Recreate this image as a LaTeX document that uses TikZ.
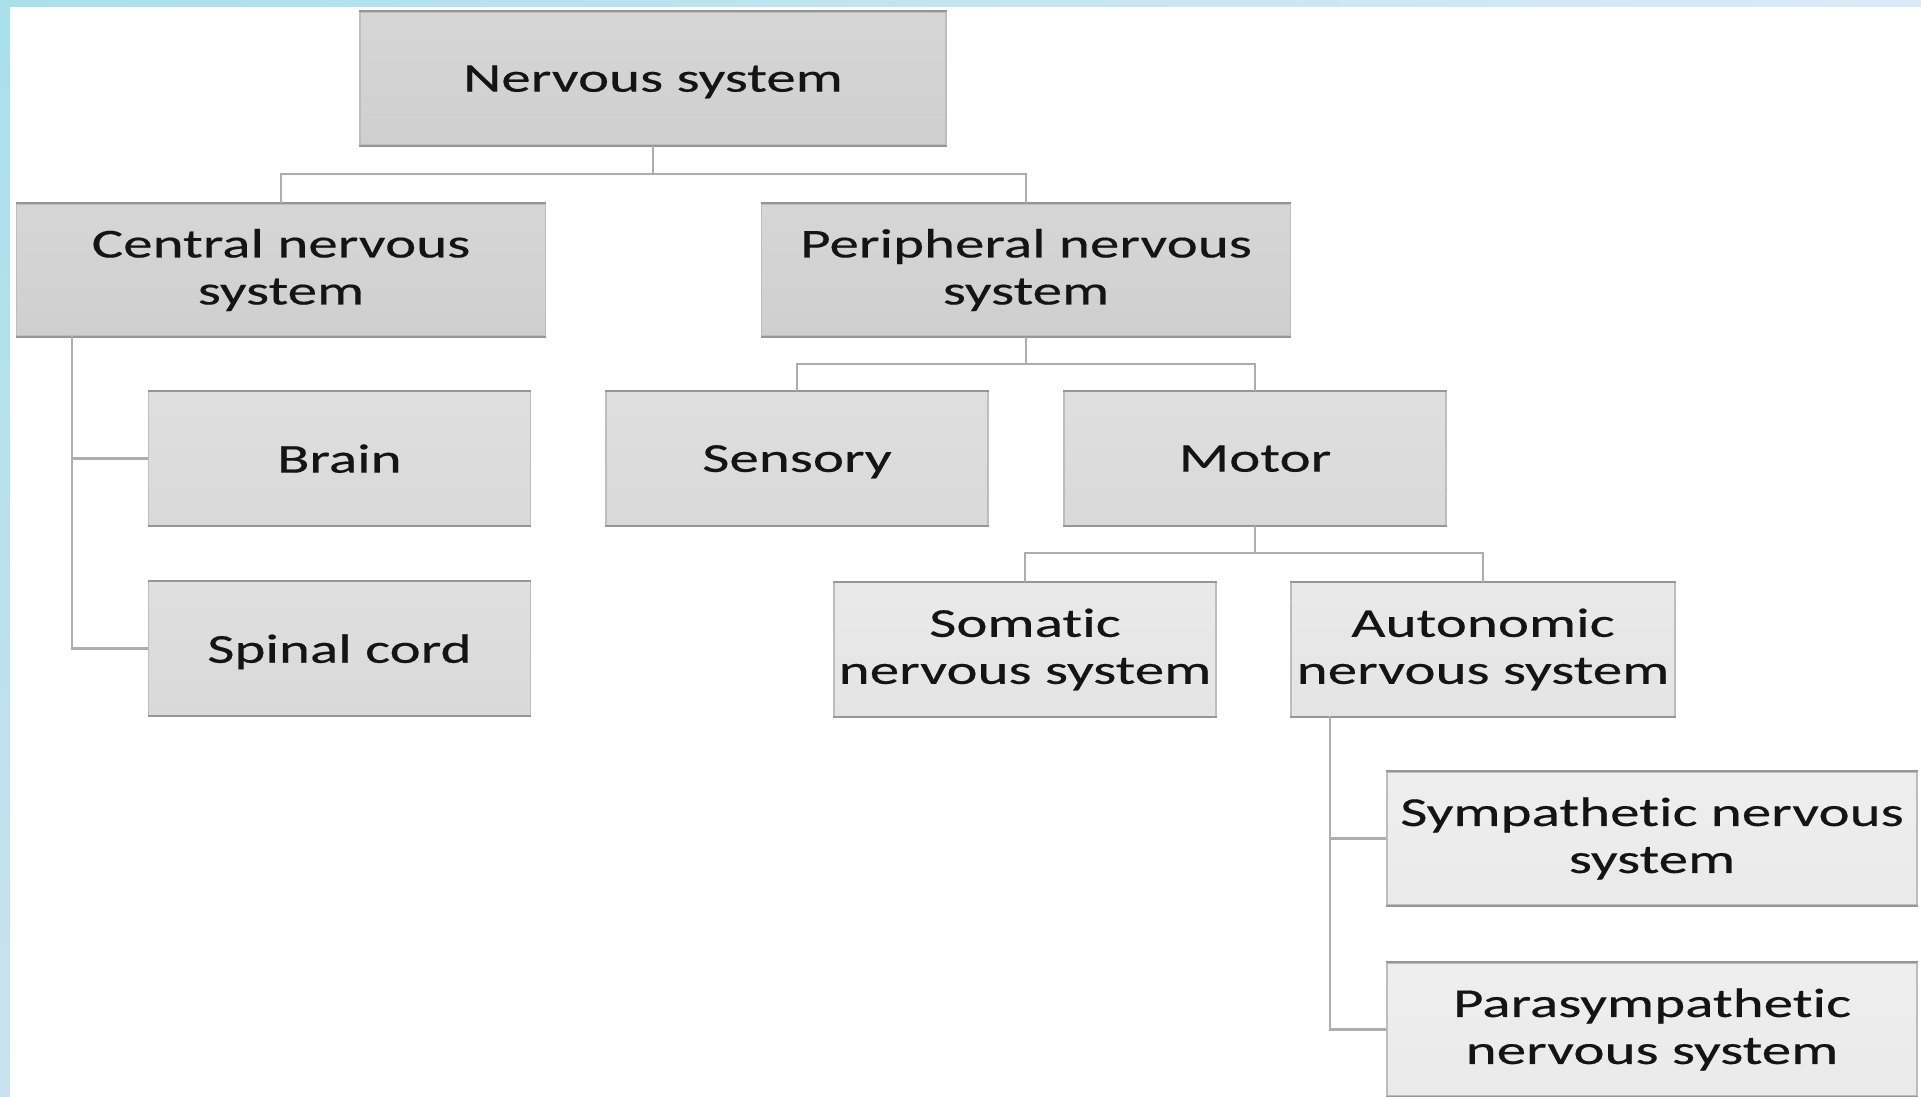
\documentclass[tikz,border=0pt]{standalone}
\usepackage{fontspec}
\setmainfont[FakeStretch=1.44, FakeBold=0.4, Ligatures=NoCommon]{Carlito}
\begin{document}
\begin{tikzpicture}[x=1pt,y=-1pt,
  box/.style={rectangle, inner sep=0pt, align=center, draw=boxside, line width=1.4pt,
    font=\fontsize{41}{47}\selectfont, text=black!92},
  lvlA/.style={box, top color=fillA!85!white, bottom color=fillA},
  lvlB/.style={box, top color=fillB!85!white, bottom color=fillB},
  lvlC/.style={box, top color=fillC!80!white, bottom color=fillC},
  lvlD/.style={box, top color=fillD!80!white, bottom color=fillD},
  oneline/.style={text depth=0pt},
  twoline/.style={yshift=0pt},
  wideBox/.style={minimum width=529pt, minimum height=132pt},
  midBox/.style={minimum width=382pt, minimum height=134pt},
  conn/.style={draw=connc, line width=2.4pt},
  edge/.style={draw=boxedge, line width=2pt}]
\definecolor{boxside}{HTML}{BDBDBD}
\definecolor{boxedge}{HTML}{969696}
\definecolor{connc}{HTML}{ADADAD}
\definecolor{fillA}{HTML}{CFCFCF}
\definecolor{fillB}{HTML}{D9D9D9}
\definecolor{fillC}{HTML}{E4E4E4}
\definecolor{fillD}{HTML}{EAEAEA}
\definecolor{cyanA}{HTML}{A9E0EA}
\definecolor{blueB}{HTML}{DCEAF8}
\definecolor{blueC}{HTML}{C9E2EE}
\useasboundingbox (0,0) rectangle (1921,1096);
\fill[white] (0,0) rectangle (1921,1096);
% page decoration stripes
\fill[left color=cyanA, right color=blueB] (0,0) rectangle (1921,6);
\fill[top color=cyanA, bottom color=blueC] (0,0) rectangle (10,1096);

% nodes
\node[lvlA, oneline, minimum width=586pt, minimum height=133pt] (nerv) at (653,78.5) {Nervous system};
\node[lvlA, wideBox] (cns) at (281,270) {Central nervous\\system};
\node[lvlA, wideBox] (pns) at (1026,270) {Peripheral nervous\\system};
\node[lvlB, oneline, midBox] (brain) at (339.5,458.5) {Brain};
\node[lvlB, oneline, midBox] (spinal) at (339.5,648.5) {Spinal cord};
\node[lvlB, oneline, midBox] (sensory) at (797,458.5) {Sensory};
\node[lvlB, oneline, midBox] (motor) at (1255,458.5) {Motor};
\node[lvlC, midBox] (somatic) at (1025,649.5) {Somatic\\nervous system};
\node[lvlC, midBox, minimum width=384pt] (autonomic) at (1483,649.5) {Autonomic\\nervous system};
\node[lvlD, minimum width=530pt, minimum height=133pt] (symp) at (1652,838.5) {Sympathetic nervous\\system};
\node[lvlD, minimum width=530pt, minimum height=133pt] (para) at (1652,1029.5) {Parasympathetic\\nervous system};

% darker top and bottom edges
\foreach \n in {nerv,cns,pns,brain,spinal,sensory,motor,somatic,autonomic,symp,para}
  \path[edge] (\n.north west) -- (\n.north east) (\n.south west) -- (\n.south east);

% connectors
\coordinate (j1) at (653,174);
\draw[conn] (nerv.south) -- (j1);
\draw[conn] (cns.north) -- (cns.north |- j1) -- (pns.north |- j1) -- (pns.north);

\coordinate (cnsdown) at (72,335);
\draw[conn] (cnsdown) |- (brain.west);
\draw[conn] (cnsdown) |- (spinal.west);

\coordinate (j2) at (1026,364);
\draw[conn] (pns.south) -- (j2);
\draw[conn] (sensory.north) -- (sensory.north |- j2) -- (motor.north |- j2) -- (motor.north);

\coordinate (j3) at (1255,553);
\draw[conn] (motor.south) -- (j3);
\draw[conn] (somatic.north) -- (somatic.north |- j3) -- (autonomic.north |- j3) -- (autonomic.north);

\coordinate (autdown) at (1330,716);
\draw[conn] (autdown) |- (symp.west);
\draw[conn] (autdown) |- (para.west);
\end{tikzpicture}
\end{document}
